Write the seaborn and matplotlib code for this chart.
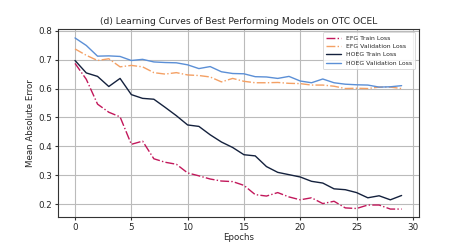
import numpy as np
import pandas as pd
import seaborn as sns
import matplotlib
matplotlib.use("Agg")
import matplotlib.pyplot as plt

epochs = list(range(30))
efg_train = [0.687, 0.632, 0.546, 0.518, 0.502, 0.407, 0.418, 0.357, 0.345, 0.338,
             0.308, 0.298, 0.287, 0.280, 0.278, 0.265, 0.233, 0.228, 0.240, 0.225,
             0.215, 0.222, 0.202, 0.210, 0.187, 0.185, 0.197, 0.197, 0.183, 0.183]
efg_val = [0.737, 0.715, 0.697, 0.703, 0.675, 0.680, 0.675, 0.655, 0.650, 0.655,
           0.647, 0.645, 0.640, 0.623, 0.635, 0.625, 0.620, 0.620, 0.621, 0.618,
           0.617, 0.612, 0.612, 0.608, 0.600, 0.601, 0.600, 0.605, 0.605, 0.600]
hoeg_train = [0.697, 0.654, 0.642, 0.607, 0.635, 0.579, 0.566, 0.563, 0.535, 0.506,
              0.474, 0.469, 0.440, 0.415, 0.396, 0.371, 0.367, 0.330, 0.310, 0.302,
              0.294, 0.279, 0.273, 0.253, 0.250, 0.240, 0.222, 0.229, 0.215, 0.230]
hoeg_val = [0.775, 0.749, 0.712, 0.713, 0.711, 0.697, 0.701, 0.692, 0.690, 0.689,
            0.682, 0.669, 0.676, 0.658, 0.652, 0.651, 0.641, 0.640, 0.635, 0.642,
            0.626, 0.620, 0.633, 0.620, 0.615, 0.613, 0.612, 0.605, 0.606, 0.610]

series_names = ["EFG Train Loss", "EFG Validation Loss", "HOEG Train Loss", "HOEG Validation Loss"]
colors = ["#c2185b", "#f4a064", "#14213d", "#5b8fd6"]
styles = ["-.", "-.", "-", "-"]

sns.set_style("whitegrid")
plt.rcParams["font.family"] = ["DejaVu Sans"]

fig = plt.figure(figsize=(4.65, 2.44), dpi=100)
ax = fig.add_axes([0.125, 0.11, 0.775, 0.77])

for name, vals, c, ls in zip(series_names, [efg_train, efg_val, hoeg_train, hoeg_val], colors, styles):
    df = pd.DataFrame({"Epochs": epochs, "val": vals})
    sns.lineplot(data=df, x="Epochs", y="val", ax=ax, color=c, linestyle=ls, linewidth=1.0, label=name)

ax.set_xlim(-1.5, 30.5)
ax.set_ylim(0.155, 0.805)
ax.set_xticks([0, 5, 10, 15, 20, 25, 30])
ax.set_yticks([0.2, 0.3, 0.4, 0.5, 0.6, 0.7, 0.8])
ax.tick_params(labelsize=6.3, length=2, pad=2, left=True, bottom=True, color="#333333")
ax.grid(True, color="#bbbbbb", linewidth=0.8)
for s in ax.spines.values():
    s.set_color("#333333")
    s.set_linewidth(0.8)
ax.set_xlabel("Epochs", fontsize=6.2, labelpad=1)
ax.set_ylabel("Mean Absolute Error", fontsize=6.2, labelpad=3)
ax.set_title("(d) Learning Curves of Best Performing Models on OTC OCEL", fontsize=6.6, pad=4)
leg = ax.legend(loc="upper right", fontsize=4.4, frameon=True, handlelength=2.5, borderpad=0.5, labelspacing=0.5)
leg.get_frame().set_edgecolor("#cccccc")
leg.get_frame().set_linewidth(0.6)

fig.savefig("out.png", dpi=100)
